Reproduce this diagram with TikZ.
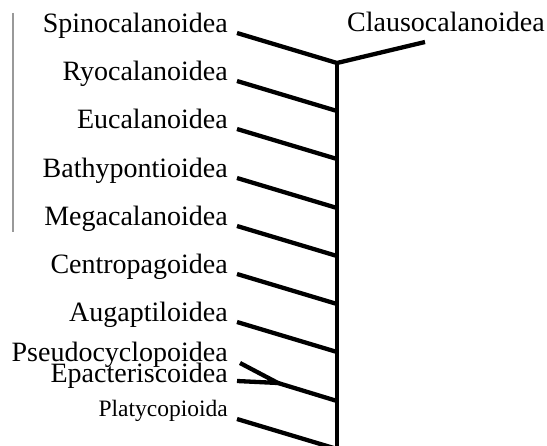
\documentclass[tikz,border=0pt]{standalone}
\usepackage{fontspec}
\setmainfont{Liberation Serif}
\begin{document}
\begin{tikzpicture}[x=1pt,y=-1pt,
  taxon/.style={anchor=base east,inner sep=0pt,font=\fontsize{28}{30}\selectfont},
  smalltaxon/.style={anchor=base east,inner sep=0pt,font=\fontsize{23.5}{25}\selectfont},
  branch/.style={line width=4.3pt,line cap=butt,line join=miter}]
\clip (0,0) rectangle (547,446);
\fill[white] (0,0) rectangle (547,446);
% gray rule
\coordinate (g1) at (13,13);
\coordinate (g2) at (13,232);
\draw[gray!80,line width=1.5pt] (g1) -- (g2);
% labels
\node[taxon] (spino) at (228,33) {Spinocalanoidea};
\node[taxon] (ryo) at (228,81) {Ryocalanoidea};
\node[taxon] (euc) at (228,129) {Eucalanoidea};
\node[taxon] (bathy) at (228,178) {Bathypontioidea};
\node[taxon] (mega) at (228,226) {Megacalanoidea};
\node[taxon] (centro) at (228,274) {Centropagoidea};
\node[taxon] (augap) at (228,322) {Augaptiloidea};
\node[taxon] (pseudo) at (228,362) {Pseudocyclopoidea};
\node[taxon] (epac) at (228,383) {Epacteriscoidea};
\node[smalltaxon] (platy) at (228,417) {Platycopioida};
\node[anchor=base west,inner sep=0pt,font=\fontsize{28}{30}\selectfont] (clauso) at (347,32) {Clausocalanoidea};
% branch start points
\coordinate (sSpino) at (237,33);
\coordinate (sRyo) at (237,81);
\coordinate (sEuc) at (237,129);
\coordinate (sBathy) at (237,178);
\coordinate (sMega) at (237,226);
\coordinate (sCentro) at (237,274);
\coordinate (sAugap) at (237,322);
\coordinate (sPseudo) at (240,363);
\coordinate (sEpac) at (237,381);
\coordinate (sPlaty) at (237,419);
\coordinate (sClauso) at (425,42);
% junctions on the stem
\coordinate (jTop) at (337,63);
\coordinate (jRyo) at (337,111);
\coordinate (jEuc) at (337,159);
\coordinate (jBathy) at (337,208);
\coordinate (jMega) at (337,256);
\coordinate (jCentro) at (337,304);
\coordinate (jAugap) at (337,352);
\coordinate (jPE) at (278,383);
\coordinate (jPEstem) at (337,401);
\coordinate (jPlaty) at (337,449);
\coordinate (stemEnd) at (337,452);
% branches
\draw[branch] (sSpino) -- (jTop) -- (sClauso);
\draw[branch] (jTop) -- (stemEnd);
\draw[branch] (sRyo) -- (jRyo);
\draw[branch] (sEuc) -- (jEuc);
\draw[branch] (sBathy) -- (jBathy);
\draw[branch] (sMega) -- (jMega);
\draw[branch] (sCentro) -- (jCentro);
\draw[branch] (sAugap) -- (jAugap);
\draw[branch] (sPseudo) -- (jPE) -- (sEpac);
\draw[branch] (jPE) -- (jPEstem);
\draw[branch] (sPlaty) -- (jPlaty);
\end{tikzpicture}
\end{document}
